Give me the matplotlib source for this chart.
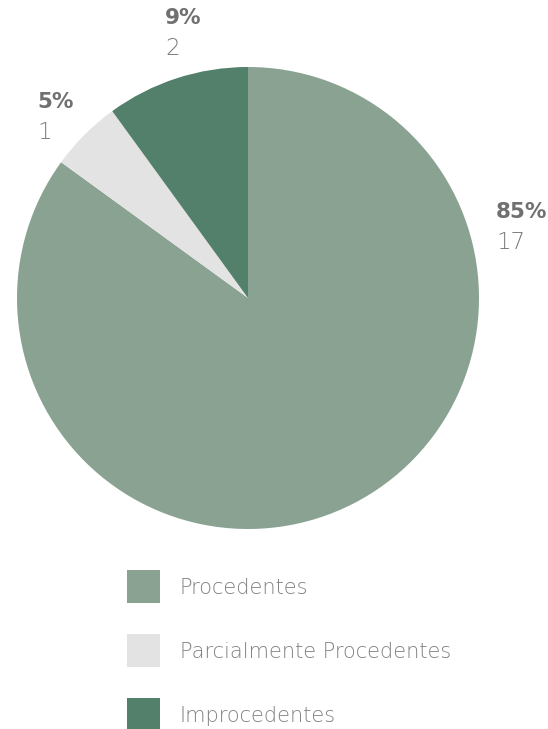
import matplotlib.pyplot as plt
from matplotlib.patches import Rectangle

# results by category, clockwise from 12 o'clock
categories = ['Procedentes', 'Parcialmente Procedentes', 'Improcedentes']
counts = [17, 1, 2]
pct_labels = ['85%', '5%', '9%']
colors = ['#89a291', '#e3e3e3', '#52806a']

# where each label block sits (figure pixels, left/top of the percent line)
label_pos = [(496, 202), (37, 92), (165, 8)]

W, H = 548, 729
plt.rcParams['font.family'] = ['DejaVu Sans']

fig = plt.figure(figsize=(W / 100, H / 100), dpi=100)
ax = fig.add_axes([0, 0, 1, 1])

ax.pie(counts, colors=colors, startangle=90, counterclock=False,
       center=(248, H - 298), radius=231, frame=True,
       wedgeprops=dict(linewidth=0))
ax.set_xlim(0, W)
ax.set_ylim(0, H)
ax.set_aspect('equal')
ax.axis('off')

for (x, y), pct, n in zip(label_pos, pct_labels, counts):
    ax.text(x, H - y, pct, ha='left', va='top', fontsize=15.5,
            fontweight='bold', color='#707070')
    ax.text(x, H - y - 29, str(n), ha='left', va='top', fontsize=16.5,
            fontweight='light', color='#7a7a7a')

# legend: squares with labels underneath the pie
sq = 33
for i, (cat, c) in enumerate(zip(categories, colors)):
    top = 570 + i * 64
    ax.add_patch(Rectangle((127, H - top - sq), sq, sq, facecolor=c,
                           edgecolor='none'))
    ax.text(180, H - top - sq / 2, cat, ha='left', va='center_baseline',
            fontsize=15, fontweight='light', color='#808080')

fig.savefig('out.png', dpi=100)
